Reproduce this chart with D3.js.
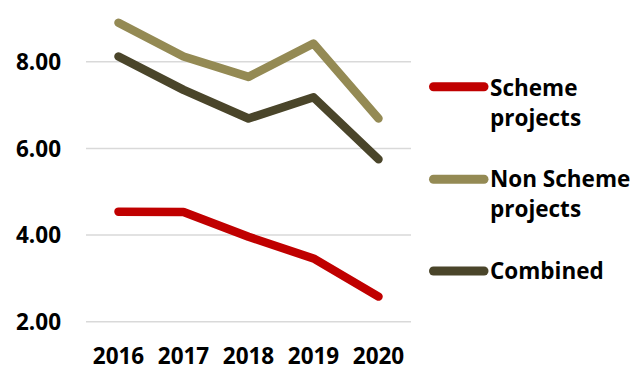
<!DOCTYPE html>
<html>
<head>
<meta charset="utf-8">
<script src="https://cdn.jsdelivr.net/npm/d3@7"></script>
<style>
  html, body { margin: 0; padding: 0; background: #fff; }
  svg { display: block; }
  text { font-family: "Open Sans", Lato, sans-serif; font-weight: 750; fill: #000; }
</style>
</head>
<body>
<svg id="chart" width="637" height="369"></svg>
<script>
// Average values per year for each project group
const years = ["2016", "2017", "2018", "2019", "2020"];
const schemeProjects = [4.54, 4.53, 3.96, 3.46, 2.58];
const nonSchemeProjects = [8.90, 8.12, 7.65, 8.42, 6.69];
const combined = [8.12, 7.35, 6.69, 7.18, 5.75];
const yTicks = [2, 4, 6, 8];

const seriesNames = ["Scheme projects", "Non Scheme projects", "Combined"];
const seriesValues = [schemeProjects, nonSchemeProjects, combined];
const seriesColors = ["#C00000", "#948A54", "#4A452A"];
// legend labels wrap onto two lines
const legendLines = [["Scheme", "projects"], ["Non Scheme", "projects"], ["Combined"]];

const svg = d3.select("#chart");

const plot = { left: 86, right: 411, top: 18.4, bottom: 321.7 };

const x = d3.scalePoint()
  .domain(years)
  .range([plot.left, plot.right])
  .padding(0.5);

const y = d3.scaleLinear()
  .domain([2, 9])
  .range([plot.bottom, plot.top]);

// horizontal gridlines
svg.append("g")
  .selectAll("line")
  .data(yTicks)
  .join("line")
  .attr("x1", plot.left)
  .attr("x2", plot.right)
  .attr("y1", d => y(d))
  .attr("y2", d => y(d))
  .attr("stroke", "#D9D9D9")
  .attr("stroke-width", 1.5);

// value axis labels
svg.append("g")
  .selectAll("text")
  .data(yTicks)
  .join("text")
  .attr("x", 61)
  .attr("y", d => y(d) + 8.2)
  .attr("text-anchor", "end")
  .style("font-size", "22.5px")
  .text(d => d3.format(".2f")(d));

// category axis labels
svg.append("g")
  .selectAll("text")
  .data(years)
  .join("text")
  .attr("x", d => x(d))
  .attr("y", 363.5)
  .attr("text-anchor", "middle")
  .style("font-size", "22.5px")
  .text(d => d);

// series lines
const line = d3.line()
  .x((d, i) => x(years[i]))
  .y(d => y(d));

svg.append("g")
  .selectAll("path")
  .data(seriesValues)
  .join("path")
  .attr("d", d => line(d))
  .attr("fill", "none")
  .attr("stroke", (d, i) => seriesColors[i])
  .attr("stroke-width", 8.5)
  .attr("stroke-linecap", "round")
  .attr("stroke-linejoin", "round");

// legend
const legendY = [86.7, 179.3, 271];
const legendBaseline = [95.5, 187, 278.5];
const legend = svg.append("g");
seriesNames.forEach((name, i) => {
  const g = legend.append("g");
  g.append("line")
    .attr("x1", 433.5)
    .attr("x2", 484)
    .attr("y1", legendY[i])
    .attr("y2", legendY[i])
    .attr("stroke", seriesColors[i])
    .attr("stroke-width", 9)
    .attr("stroke-linecap", "round");
  const t = g.append("text")
    .attr("x", 490)
    .attr("y", legendBaseline[i])
    .style("font-size", "22.5px");
  legendLines[i].forEach((ln, j) => {
    t.append("tspan")
      .attr("x", 490)
      .attr("dy", j === 0 ? 0 : 30)
      .text(ln);
  });
});
</script>
</body>
</html>
